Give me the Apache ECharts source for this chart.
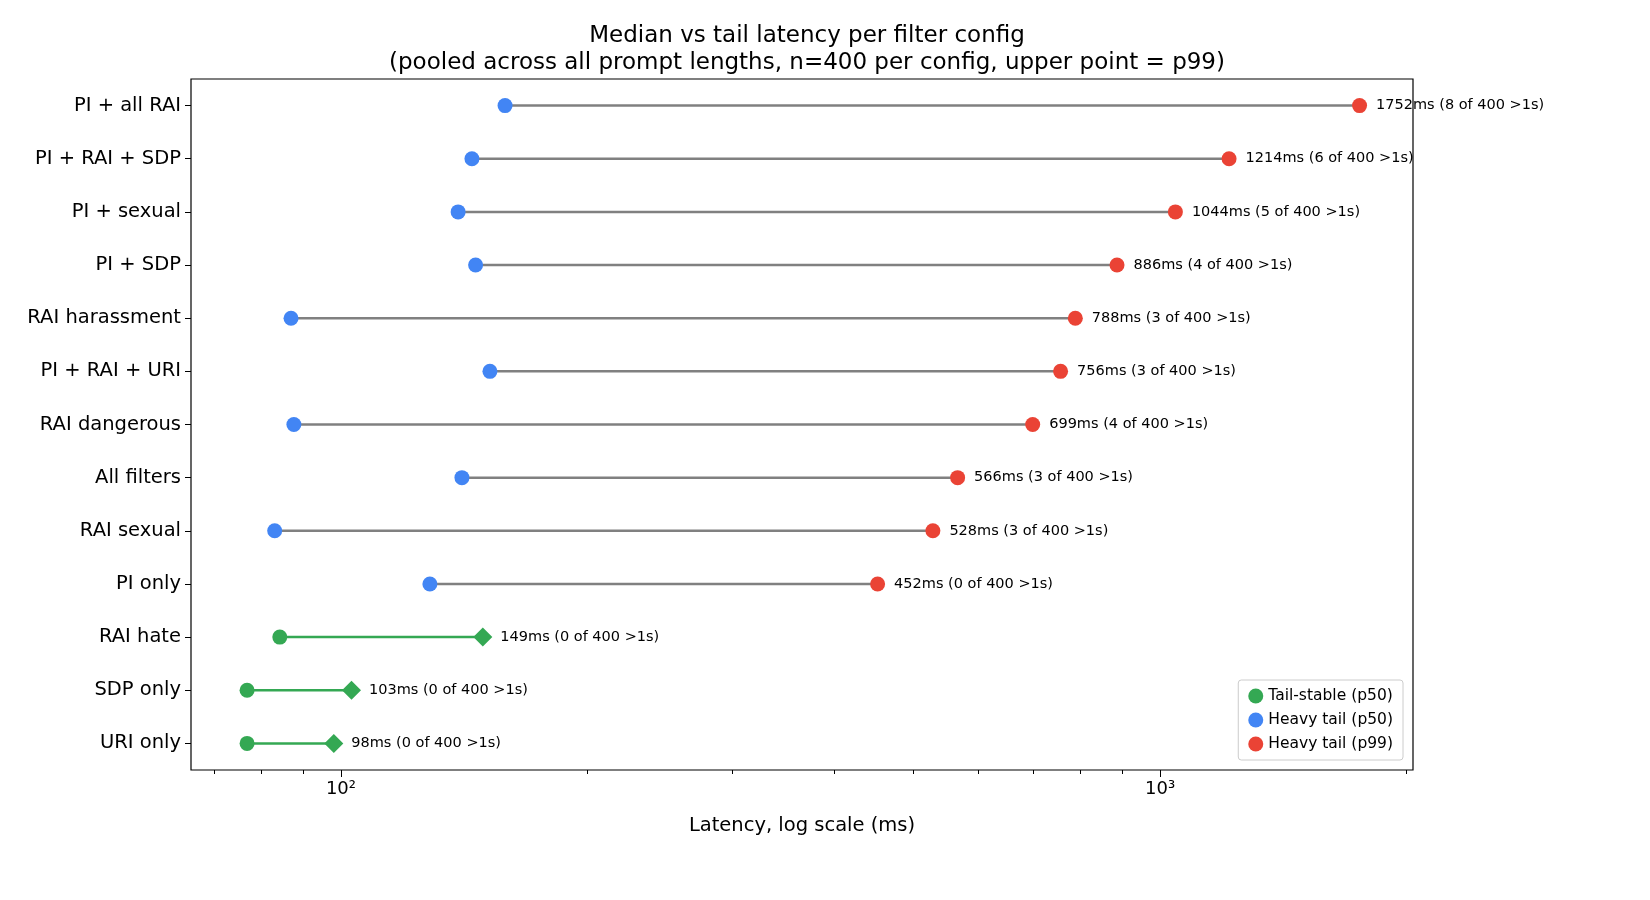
<!DOCTYPE html>
<html><head><meta charset="utf-8">
<script src="https://cdn.jsdelivr.net/npm/echarts@6/dist/echarts.min.js"></script>
<style>html,body{margin:0;background:#fff}#c{width:1650px;height:900px}</style>
</head><body><div id="c"></div>
<script>
// bottom to top
var configs = ['URI only', 'SDP only', 'RAI hate', 'PI only', 'RAI sexual', 'All filters', 'RAI dangerous',
  'PI + RAI + URI', 'RAI harassment', 'PI + SDP', 'PI + sexual', 'PI + RAI + SDP', 'PI + all RAI'];
var p50 = [76.8, 76.8, 84.2, 128.4, 83, 140.5, 87.6, 152, 86.9, 146, 139, 144.5, 158.6];
var p99 = [98, 103, 149, 452, 528, 566, 699, 756, 788, 886, 1044, 1214, 1752];
var over1s = [0, 0, 0, 0, 3, 3, 4, 3, 3, 4, 5, 6, 8];
var tailStable = [true, true, true, false, false, false, false, false, false, false, false, false, false];

var GREEN = '#34a853', BLUE = '#4285f4', RED = '#ea4335';
var segs = [], sP50 = [], sP99 = [], hP50 = [], hP99 = [];
configs.forEach(function (c, i) {
  segs.push([p50[i], p99[i], i, tailStable[i] ? 1 : 0]);
  var lab = p99[i] + 'ms (' + over1s[i] + ' of 400 >1s)';
  if (tailStable[i]) { sP50.push([p50[i], c]); sP99.push({value: [p99[i], c], lab: lab}); }
  else { hP50.push([p50[i], c]); hP99.push({value: [p99[i], c], lab: lab}); }
});

var font = 'DejaVu Sans';
var chart = echarts.init(document.getElementById('c'));
chart.setOption({
  animation: false,
  textStyle: {fontFamily: font},
  title: {text: 'Median vs tail latency per filter config\n(pooled across all prompt lengths, n=400 per config, upper point = p99)',
    left: 802, top: 18, textAlign: 'center',
    textStyle: {fontFamily: font, fontSize: 23, fontWeight: 'normal', color: '#000', lineHeight: 27}},
  grid: {left: 191, right: 237, top: 79, bottom: 130, show: true, borderColor: '#000', borderWidth: 1.2},
  legend: {orient: 'vertical', right: 247, bottom: 140, itemWidth: 15, itemHeight: 15, itemGap: 8,
    padding: [8, 10], borderColor: '#ccc', borderWidth: 1, borderRadius: 3, backgroundColor: '#fff',
    textStyle: {fontFamily: font, fontSize: 15.5, color: '#000'},
    data: [{name: 'Tail-stable (p50)', icon: 'circle'}, {name: 'Heavy tail (p50)', icon: 'circle'}, {name: 'Heavy tail (p99)', icon: 'circle'}]},
  xAxis: [{
    type: 'log', min: 65.6, max: 2036, logBase: 10,
    name: 'Latency, log scale (ms)', nameLocation: 'middle', nameGap: 46,
    nameTextStyle: {fontFamily: font, fontSize: 19.5, color: '#000'},
    axisLine: {show: false}, splitLine: {show: false},
    axisTick: {show: true, length: 7, lineStyle: {color: '#000'}, customValues: [100, 1000]},
    axisLabel: {customValues: [100, 1000], fontFamily: font, fontSize: 18, color: '#000', margin: 10,
      formatter: function (v) { return v < 500 ? '10²' : '10³'; }}
  }, {
    type: 'log', min: 65.6, max: 2036, logBase: 10, position: 'bottom',
    axisLine: {show: false}, splitLine: {show: false}, axisLabel: {show: false},
    axisTick: {show: true, length: 4, lineStyle: {color: '#000'},
      customValues: [70, 80, 90, 200, 300, 400, 500, 600, 700, 800, 900, 2000]}
  }],
  yAxis: {type: 'category', data: configs, axisLine: {show: false},
    axisTick: {show: true, alignWithLabel: true, length: 6, lineStyle: {color: '#000'}},
    axisLabel: {fontFamily: font, fontSize: 19.5, color: '#000', margin: 10}},
  series: [{
    type: 'custom', silent: true, data: segs, z: 1,
    encode: {x: [0, 1], y: 2},
    renderItem: function (params, api) {
      var a = api.coord([api.value(0), configs[api.value(2)]]);
      var b = api.coord([api.value(1), configs[api.value(2)]]);
      return {type: 'line', shape: {x1: a[0], y1: a[1], x2: b[0], y2: b[1]},
        style: {stroke: api.value(3) ? GREEN : '#808080', lineWidth: 2.5}};
    }
  }, {
    name: 'Tail-stable (p50)', type: 'scatter', data: sP50, symbolSize: 15, itemStyle: {color: GREEN, opacity: 1}, z: 3
  }, {
    name: 'Tail-stable (p99)', type: 'scatter', data: sP99, symbol: 'diamond', symbolSize: 19,
    itemStyle: {color: GREEN, opacity: 1}, z: 3,
    label: {show: true, position: 'right', distance: 8, fontFamily: font, fontSize: 14.5, color: '#000',
      formatter: function (p) { return p.data.lab; }}
  }, {
    name: 'Heavy tail (p50)', type: 'scatter', data: hP50, symbolSize: 15, itemStyle: {color: BLUE, opacity: 1}, z: 3
  }, {
    name: 'Heavy tail (p99)', type: 'scatter', data: hP99, symbolSize: 15, itemStyle: {color: RED, opacity: 1}, z: 3,
    label: {show: true, position: 'right', distance: 9, fontFamily: font, fontSize: 14.5, color: '#000',
      formatter: function (p) { return p.data.lab; }}
  }]
});
</script></body></html>
